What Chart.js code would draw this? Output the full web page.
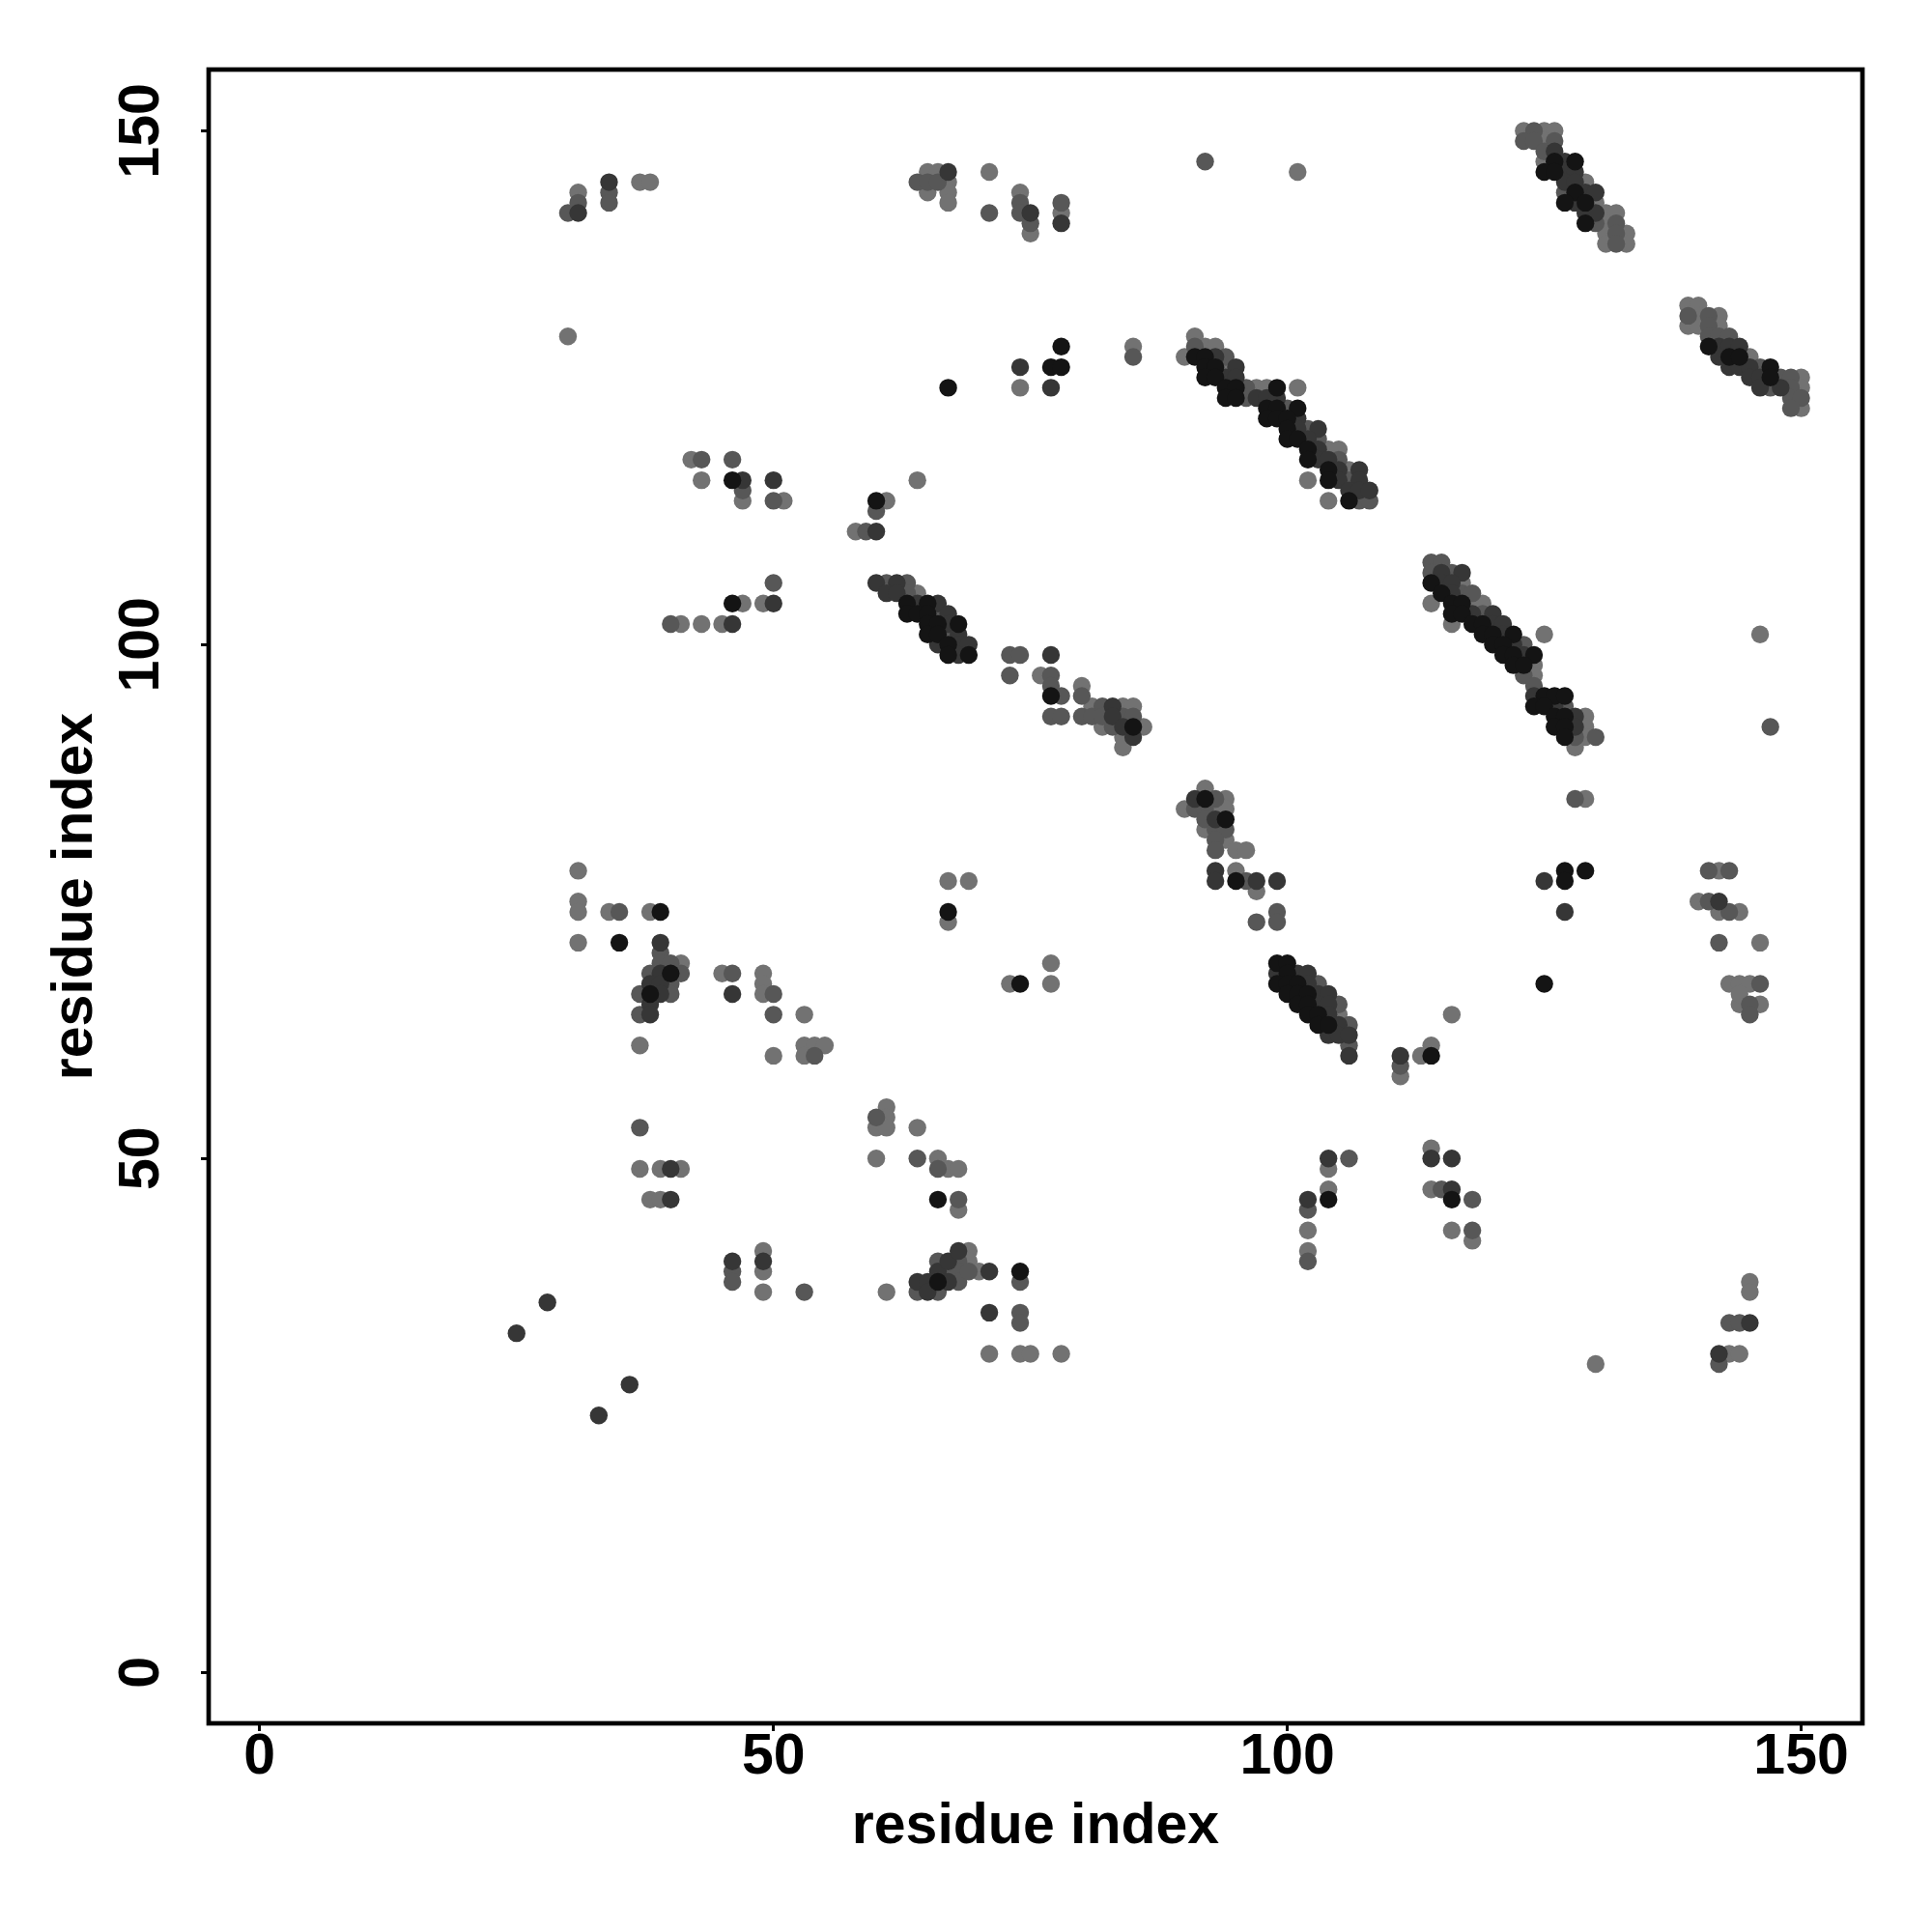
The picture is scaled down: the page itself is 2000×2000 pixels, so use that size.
<!DOCTYPE html>
<html><head><meta charset="utf-8">
<script src="https://cdn.jsdelivr.net/npm/chart.js@4/dist/chart.umd.min.js"></script>
<style>html,body{margin:0;padding:0;background:#fff}</style>
</head><body>
<canvas id="c" width="2000" height="2000" style="width:2000px;height:2000px;display:block"></canvas>
<script>
// axis ticks and titles
const tickValues = [0, 50, 100, 150];
const tickLabels = ['0', '50', '100', '150'];
const xTitle = 'residue index';
const yTitle = 'residue index';
const axisMin = -4.96, axisMax = 155.96;

// contacts [i, j] grouped by predicted strength (shade)
const contactsStrongest = [
[67,125],[77,127],[78,127],[78,129],
[126,147],[128,147],[125,146],[126,146],[128,144],[127,143],[129,143],[129,141],
[141,129],[143,128],[144,128],[147,127],[147,126],
[91,128],[92,128],[92,127],[93,127],[92,126],[93,126],[94,125],[95,125],[99,125],[94,124],[95,124],[98,123],[99,123],[101,123],[98,122],[99,122],[100,122],[100,121],[100,120],[101,120],[102,119],[102,118],[104,117],[104,116],[106,114],
[46,116],[60,114],[46,104],
[63,104],[65,104],[63,103],[64,103],[65,103],[65,102],[66,102],[68,102],[65,101],[66,101],[67,100],[67,99],[69,99],
[77,95],[85,92],[92,85],[94,83],[95,77],[67,74],[74,67],
[99,69],[100,69],[100,68],[99,67],[100,67],[101,67],[100,66],[101,66],[102,66],[101,65],[102,65],[102,64],[103,64],[103,63],[104,63],
[114,106],[115,105],[116,104],[117,104],[116,103],[117,103],[118,102],[119,102],[119,101],[120,101],[122,101],[120,100],[121,100],[121,99],[122,99],[124,99],[122,98],[123,98],[125,95],[126,95],[127,95],[124,94],[125,94],[126,93],[127,93],[126,92],[127,92],[127,91],
[127,78],[129,78],[127,77],[125,67],[114,60],[116,46],[104,46],[66,46],[66,38],[74,39],
[39,74],[35,71],[40,68],[38,66]
];
const contactsStrong = [
[31,142],[34,145],[67,146],[75,142],[78,141],
[126,148],[127,147],[127,146],[128,146],[127,145],[128,145],[129,144],[130,144],[128,143],[129,142],[130,142],
[142,129],[143,129],[144,129],[142,128],[143,127],[144,127],[145,127],[145,126],[146,126],[146,125],[148,125],
[74,127],[77,125],
[93,128],[95,127],[94,126],[95,126],[97,124],[98,124],[99,124],[101,122],[101,121],[103,121],[102,120],[103,119],[103,118],[104,118],[105,117],[107,117],[105,116],[107,116],[106,115],[107,115],[108,115],
[47,116],[50,116],[60,111],[50,104],[46,102],
[60,106],[62,106],[61,105],[62,105],[64,104],[66,104],[67,103],[67,102],[68,101],[66,100],[68,100],[69,100],[68,99],
[77,99],[83,94],[83,93],[84,92],[85,91],
[91,85],[93,83],[93,78],[93,77],[97,77],[99,77],
[99,68],[101,68],[102,68],[102,67],[103,66],[104,66],[103,65],[104,65],[104,64],[105,63],[104,62],[105,62],[106,62],[106,60],
[115,107],[117,107],[115,106],[116,106],[116,105],[118,103],[120,103],[120,102],[121,102],[121,101],[122,100],[123,99],[124,95],[126,94],[128,93],[128,92],
[125,77],[127,74],[142,75],[145,34],[142,31],
[111,60],[114,50],[116,50],[116,47],[104,50],[102,46],
[40,49],[40,46],[46,40],[49,40],
[64,38],[65,38],[65,37],[66,39],[67,40],[67,38],[68,41],
[71,39],[71,35],[28,36],[25,33],[36,28],[33,25],
[39,71],[39,68],[38,67],[39,67],[39,66],[38,65],[38,64],[46,66]
];
const contactsMedium = [
[30,142],[31,143],[34,144],[34,143],[64,145],[65,145],[66,145],
[71,142],[74,143],[74,142],[75,141],[78,143],[92,147],
[124,150],[123,149],[124,149],[126,149],[125,148],[127,144],[130,141],[132,141],[132,140],[132,139],
[139,132],[141,132],[141,131],[141,130],[142,130],[143,130],[146,127],[148,126],[149,126],[147,125],[149,125],[149,124],[150,124],[149,123],
[85,128],
[91,129],[94,128],[96,125],[96,124],[100,123],[102,121],[103,120],[105,118],[106,116],[107,114],[108,114],
[43,118],[46,118],[47,115],[50,114],[60,113],[59,111],[50,106],[40,102],
[61,106],[63,106],[63,105],[66,103],[67,101],
[73,99],[74,99],[73,97],[77,97],[77,96],[78,95],[77,93],[78,93],[80,95],[82,94],[80,93],[81,93],[82,93],[84,93],[85,93],[83,92],
[93,85],[91,84],[92,84],[92,83],[93,82],[94,82],[93,81],[93,80],[96,77],[99,74],[97,73],[99,73],
[103,67],[105,65],[106,63],[106,61],
[114,108],[115,108],[114,107],[116,107],[117,105],[118,105],[119,103],[123,100],[123,97],[124,96],[127,94],[128,91],[130,91],
[147,92],[128,85],[141,78],[143,78],[141,75],[143,74],[142,71],[146,67],[145,65],[145,64],
[111,59],[115,47],[118,46],[118,43],[143,34],[144,34],[142,30],
[106,50],[102,45],[102,40],
[66,49],[68,46],[60,54],[64,50],
[37,53],[46,39],[46,38],[53,37],
[64,37],[66,40],[66,37],[67,39],[68,40],[68,39],[68,38],[69,39],
[74,38],[74,35],[74,34],
[35,74],[39,70],[39,69],[40,69],[38,68],[41,68],[40,67],[37,66],[40,66],[37,64],
[46,68],[50,66],[50,64],[54,60]
];
const contactsWeak = [
[31,144],[37,145],[38,145],[30,130],
[65,146],[65,144],[66,146],[67,145],[67,144],[67,143],
[71,146],[74,144],[75,140],[78,142],[101,146],
[123,150],[125,150],[126,150],[125,149],[125,147],[129,145],[130,143],[131,142],[132,142],[131,141],[131,140],[133,140],[131,139],[133,139],
[139,133],[140,133],[140,132],[142,132],[139,131],[140,131],[142,131],[145,128],[150,126],[150,125],[150,123],
[74,125],[85,129],
[91,130],[92,129],[93,129],[90,128],[94,127],[97,125],[98,125],[101,125],[104,119],[105,119],[106,117],[102,116],[104,114],
[42,118],[43,116],[47,114],[51,114],[61,114],[58,111],[64,116],[47,104],[49,104],[41,102],[43,102],[45,102],
[64,105],
[76,97],[80,96],[81,94],[84,94],[85,94],[82,92],[86,92],[84,91],[84,90],
[92,86],[94,85],[90,84],[93,84],[94,84],[92,82],[94,81],[95,80],[96,80],[95,78],[97,76],
[67,77],[69,77],[67,73],[77,69],[73,67],[77,67],
[105,64],
[117,106],[114,104],[118,104],[119,104],[116,102],[125,101],[124,98],[124,97],[129,93],[129,92],[129,91],[128,90],
[146,101],[129,85],[142,78],[140,75],[142,74],[144,74],[146,71],[143,67],[144,67],[145,67],[144,65],[146,65],[144,66],
[116,64],[111,58],[113,60],[114,61],[114,51],[114,47],[116,43],[118,42],[130,30],[145,38],[145,37],[143,31],[144,31],
[104,49],[104,47],[102,43],[102,41],
[66,50],[67,49],[68,49],[68,45],
[61,55],[61,54],[60,53],[61,53],[64,53],[60,50],
[37,49],[39,49],[41,49],[38,46],[39,46],
[49,41],[49,39],[49,37],[61,37],
[69,41],[69,40],[70,39],
[71,31],[74,31],[75,31],[78,31],
[31,78],[31,75],[31,74],[31,71],[34,74],[38,74],[41,69],[37,61],
[45,68],[49,68],[49,67],[49,66],[53,64],[50,60],[53,61],[54,61],[55,61],[53,60]
];

const shades = ['#141414', '#363636', '#575757', '#727272'];
const groups = [contactsStrongest, contactsStrong, contactsMedium, contactsWeak];

const FONT = '"Liberation Sans", Arial, Helvetica, sans-serif';

const frame = {
  id: 'frame',
  afterDatasetsDraw(chart) {
    const a = chart.chartArea, ctx = chart.ctx;
    ctx.save();
    ctx.strokeStyle = '#000';
    ctx.lineWidth = 4.7;
    ctx.strokeRect(a.left, a.top, a.right - a.left, a.bottom - a.top);
    ctx.restore();
  }
};
const yTickText = {
  id: 'yTickText',
  afterDraw(chart) {
    const s = chart.scales.y, ctx = chart.ctx;
    ctx.save();
    ctx.fillStyle = '#000';
    ctx.font = 'bold 59px ' + FONT;
    ctx.textAlign = 'center';
    ctx.textBaseline = 'middle';
    tickValues.forEach((v, k) => {
      ctx.save();
      ctx.translate(148, s.getPixelForValue(v));
      ctx.rotate(-Math.PI / 2);
      ctx.fillText(tickLabels[k], 0, 0);
      ctx.restore();
    });
    ctx.restore();
  }
};

const setTicks = s => { s.ticks = tickValues.map(v => ({ value: v })); };
const gridOpts = { display: true, drawOnChartArea: false, drawTicks: true, tickLength: 8, tickWidth: 3, tickColor: '#000', color: '#000' };

new Chart(document.getElementById('c'), {
  type: 'scatter',
  data: {
    datasets: groups.map((g, k) => ({
      data: g.map(p => ({ x: p[0], y: p[1] })),
      backgroundColor: shades[k],
      borderWidth: 0,
      pointRadius: 9.2,
      pointHoverRadius: 9.2
    }))
  },
  options: {
    responsive: false,
    animation: false,
    devicePixelRatio: 1,
    layout: { padding: { left: 0, right: 72, top: 72, bottom: 73 } },
    plugins: { legend: { display: false }, tooltip: { enabled: false } },
    scales: {
      x: {
        type: 'linear', min: axisMin, max: axisMax,
        afterBuildTicks: setTicks,
        afterFit: s => { s.height = 143; },
        border: { display: false },
        grid: gridOpts,
        ticks: {
          autoSkip: false, maxRotation: 0, color: '#000', padding: -1.5,
          font: { family: FONT, size: 59, weight: 'bold', lineHeight: 1 },
          callback: (v) => { const k = tickValues.indexOf(v); return k >= 0 ? tickLabels[k] : ''; }
        },
        title: { display: true, text: xTitle, color: '#000', padding: { top: 0, bottom: 0 },
          font: { family: FONT, size: 59, weight: 'bold', lineHeight: 1.2 } }
      },
      y: {
        type: 'linear', min: axisMin, max: axisMax,
        afterBuildTicks: setTicks,
        afterFit: s => { s.width = 216; },
        border: { display: false },
        grid: gridOpts,
        ticks: { display: false },
        title: { display: true, text: yTitle, color: '#000', padding: { top: 43.6, bottom: 0 },
          font: { family: FONT, size: 59, weight: 'bold', lineHeight: 1.2 } }
      }
    }
  },
  plugins: [frame, yTickText]
});
</script>
</body></html>
